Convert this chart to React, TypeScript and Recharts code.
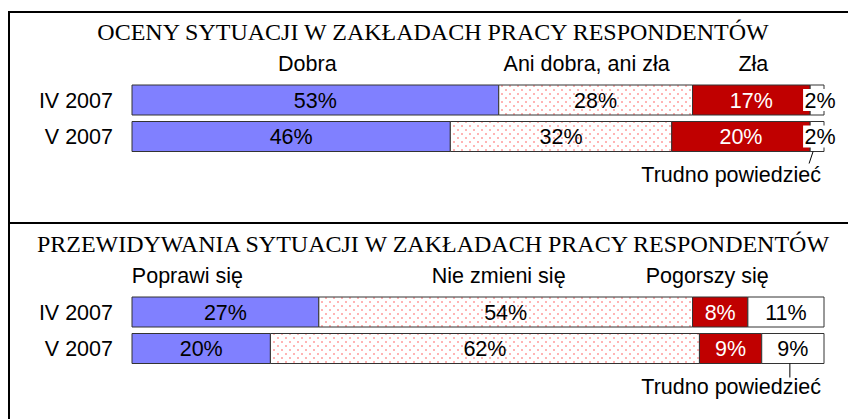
import React from 'react';
import { BarChart, Bar, XAxis, YAxis, LabelList } from 'recharts';

// okresy badania
const periods = ['IV 2007', 'V 2007'];

// panel 1 - oceny sytuacji
const ocenyTitle = 'OCENY SYTUACJI W ZAKŁADACH PRACY RESPONDENTÓW';
const ocenyNames = ['Dobra', 'Ani dobra, ani zła', 'Zła', 'Trudno powiedzieć'];
const ocenyDobra = [53, 46];
const ocenyAni = [28, 32];
const ocenyZla = [17, 20];
const ocenyTrudno = [2, 2];

// panel 2 - przewidywania
const prognozyTitle = 'PRZEWIDYWANIA SYTUACJI W ZAKŁADACH PRACY RESPONDENTÓW';
const prognozyNames = ['Poprawi się', 'Nie zmieni się', 'Pogorszy się', 'Trudno powiedzieć'];
const prognozyPoprawi = [27, 20];
const prognozyNieZmieni = [54, 62];
const prognozyPogorszy = [8, 9];
const prognozyTrudno = [11, 9];

const SANS = '"Liberation Sans", Arial, sans-serif';
const SERIF = '"Liberation Serif", "Times New Roman", serif';
const FONT_SIZE = 21.5;

const fills = ['#8080FF', 'dots', '#C00000', '#FFFFFF'];
const labelColors = ['#000000', '#000000', '#FFFFFF', '#000000'];

interface PanelLayout {
  headerDx: number[];
  leaderTop: number;
  leaderBottom: number;
  leaderLen: number;
  boxedLast: boolean;
}

const ocenyLayout: PanelLayout = {
  headerDx: [-8, -9, 2],
  leaderTop: -4,
  leaderBottom: -8,
  leaderLen: 12,
  boxedLast: true,
};

const prognozyLayout: PanelLayout = {
  headerDx: [-38, -7, -13],
  leaderTop: -3,
  leaderBottom: -3,
  leaderLen: 14,
  boxedLast: false,
};

const box = (p: any) => {
  const vb = p.viewBox || {};
  return {
    x: Number(vb.x ?? p.x),
    y: Number(vb.y ?? p.y),
    width: Number(vb.width ?? p.width),
    height: Number(vb.height ?? p.height),
  };
};

interface PanelProps {
  id: string;
  names: string[];
  series: number[][];
  layout: PanelLayout;
}

const Panel: React.FC<PanelProps> = ({ id, names, series, layout }) => {
  const data = periods.map((period, i) => {
    const row: any = { period };
    series.forEach((s, k) => {
      row[`s${k}`] = s[i];
    });
    return row;
  });
  const last = series.length - 1;

  return (
    <BarChart
      width={848}
      height={208}
      data={data}
      layout="vertical"
      margin={{ top: 82, right: 24, bottom: 53, left: 0 }}
      barSize={30}
    >
      <defs>
        <pattern id={`dots-${id}`} width="8" height="8" patternUnits="userSpaceOnUse">
          <rect width="8" height="8" fill="#FFFFFF" />
          <rect x="1" y="1" width="2" height="2" fill="#FFB4B4" />
          <rect x="5" y="5" width="2" height="2" fill="#FFB4B4" />
        </pattern>
      </defs>
      <XAxis type="number" domain={[0, 100]} hide />
      <YAxis
        type="category"
        dataKey="period"
        width={132}
        axisLine={false}
        tickLine={false}
        tickSize={0}
        tickMargin={19}
        tick={{ fontSize: FONT_SIZE, fill: '#000', fontFamily: SANS }}
      />
      {series.map((_, k) => (
        <Bar
          key={k}
          dataKey={`s${k}`}
          name={names[k]}
          stackId="a"
          fill={fills[k] === 'dots' ? `url(#dots-${id})` : fills[k]}
          stroke="#333333"
          strokeWidth={1}
          isAnimationActive={false}
        >
          <LabelList
            dataKey={`s${k}`}
            content={(p: any) => {
              const b = box(p);
              const cx = b.x + b.width / 2;
              const cy = b.y + b.height / 2;
              const boxed = k === last && layout.boxedLast;
              return (
                <g>
                  {boxed && (
                    <rect x={cx + 3 - 17} y={cy - 11} width={34} height={22} fill="#FFFFFF" />
                  )}
                  <text
                    x={boxed ? cx + 3 : cx}
                    y={cy}
                    dy="0.355em"
                    textAnchor="middle"
                    fontFamily={SANS}
                    fontSize={FONT_SIZE}
                    fill={labelColors[k]}
                  >
                    {`${p.value}%`}
                  </text>
                </g>
              );
            }}
          />
          {/* nagłówki kategorii nad pierwszym wierszem, "Trudno powiedzieć" pod ostatnim */}
          <LabelList
            dataKey={`s${k}`}
            content={(p: any) => {
              const b = box(p);
              const cx = b.x + b.width / 2;
              if (k < last && p.index === 0) {
                return (
                  <text
                    x={cx + layout.headerDx[k]}
                    y={b.y - 14}
                    textAnchor="middle"
                    fontFamily={SANS}
                    fontSize={FONT_SIZE}
                    fill="#000"
                  >
                    {names[k]}
                  </text>
                );
              }
              if (k === last && p.index === periods.length - 1) {
                const bottom = b.y + b.height;
                return (
                  <g>
                    <line
                      x1={cx + layout.leaderTop}
                      y1={bottom}
                      x2={cx + layout.leaderBottom}
                      y2={bottom + layout.leaderLen}
                      stroke="#000"
                      strokeWidth={1}
                    />
                    <text
                      x={b.x + b.width - 3}
                      y={bottom + 30}
                      textAnchor="end"
                      fontFamily={SANS}
                      fontSize={FONT_SIZE}
                      fill="#000"
                    >
                      {names[k]}
                    </text>
                  </g>
                );
              }
              return null;
            }}
          />
        </Bar>
      ))}
    </BarChart>
  );
};

export default function App() {
  return (
    <div style={{ position: 'absolute', left: 0, top: 0, width: 848, height: 419, background: '#fff' }}>
      <div style={{ position: 'absolute', left: 0, top: 0 }}>
        <Panel
          id="oceny"
          names={ocenyNames}
          series={[ocenyDobra, ocenyAni, ocenyZla, ocenyTrudno]}
          layout={ocenyLayout}
        />
      </div>
      <div style={{ position: 'absolute', left: 0, top: 212 }}>
        <Panel
          id="prognozy"
          names={prognozyNames}
          series={[prognozyPoprawi, prognozyNieZmieni, prognozyPogorszy, prognozyTrudno]}
          layout={prognozyLayout}
        />
      </div>
      <svg
        width={848}
        height={419}
        style={{ position: 'absolute', left: 0, top: 0, pointerEvents: 'none' }}
      >
        <rect x={8} y={11} width={840} height={2} fill="#000" />
        <rect x={8} y={11} width={2} height={408} fill="#000" />
        <rect x={8} y={222} width={840} height={2} fill="#000" />
        <text x={433} y={40} textAnchor="middle" fontFamily={SERIF} fontSize={24} fill="#000">
          {ocenyTitle}
        </text>
        <text x={433} y={252} textAnchor="middle" fontFamily={SERIF} fontSize={24} fill="#000">
          {prognozyTitle}
        </text>
      </svg>
    </div>
  );
}
